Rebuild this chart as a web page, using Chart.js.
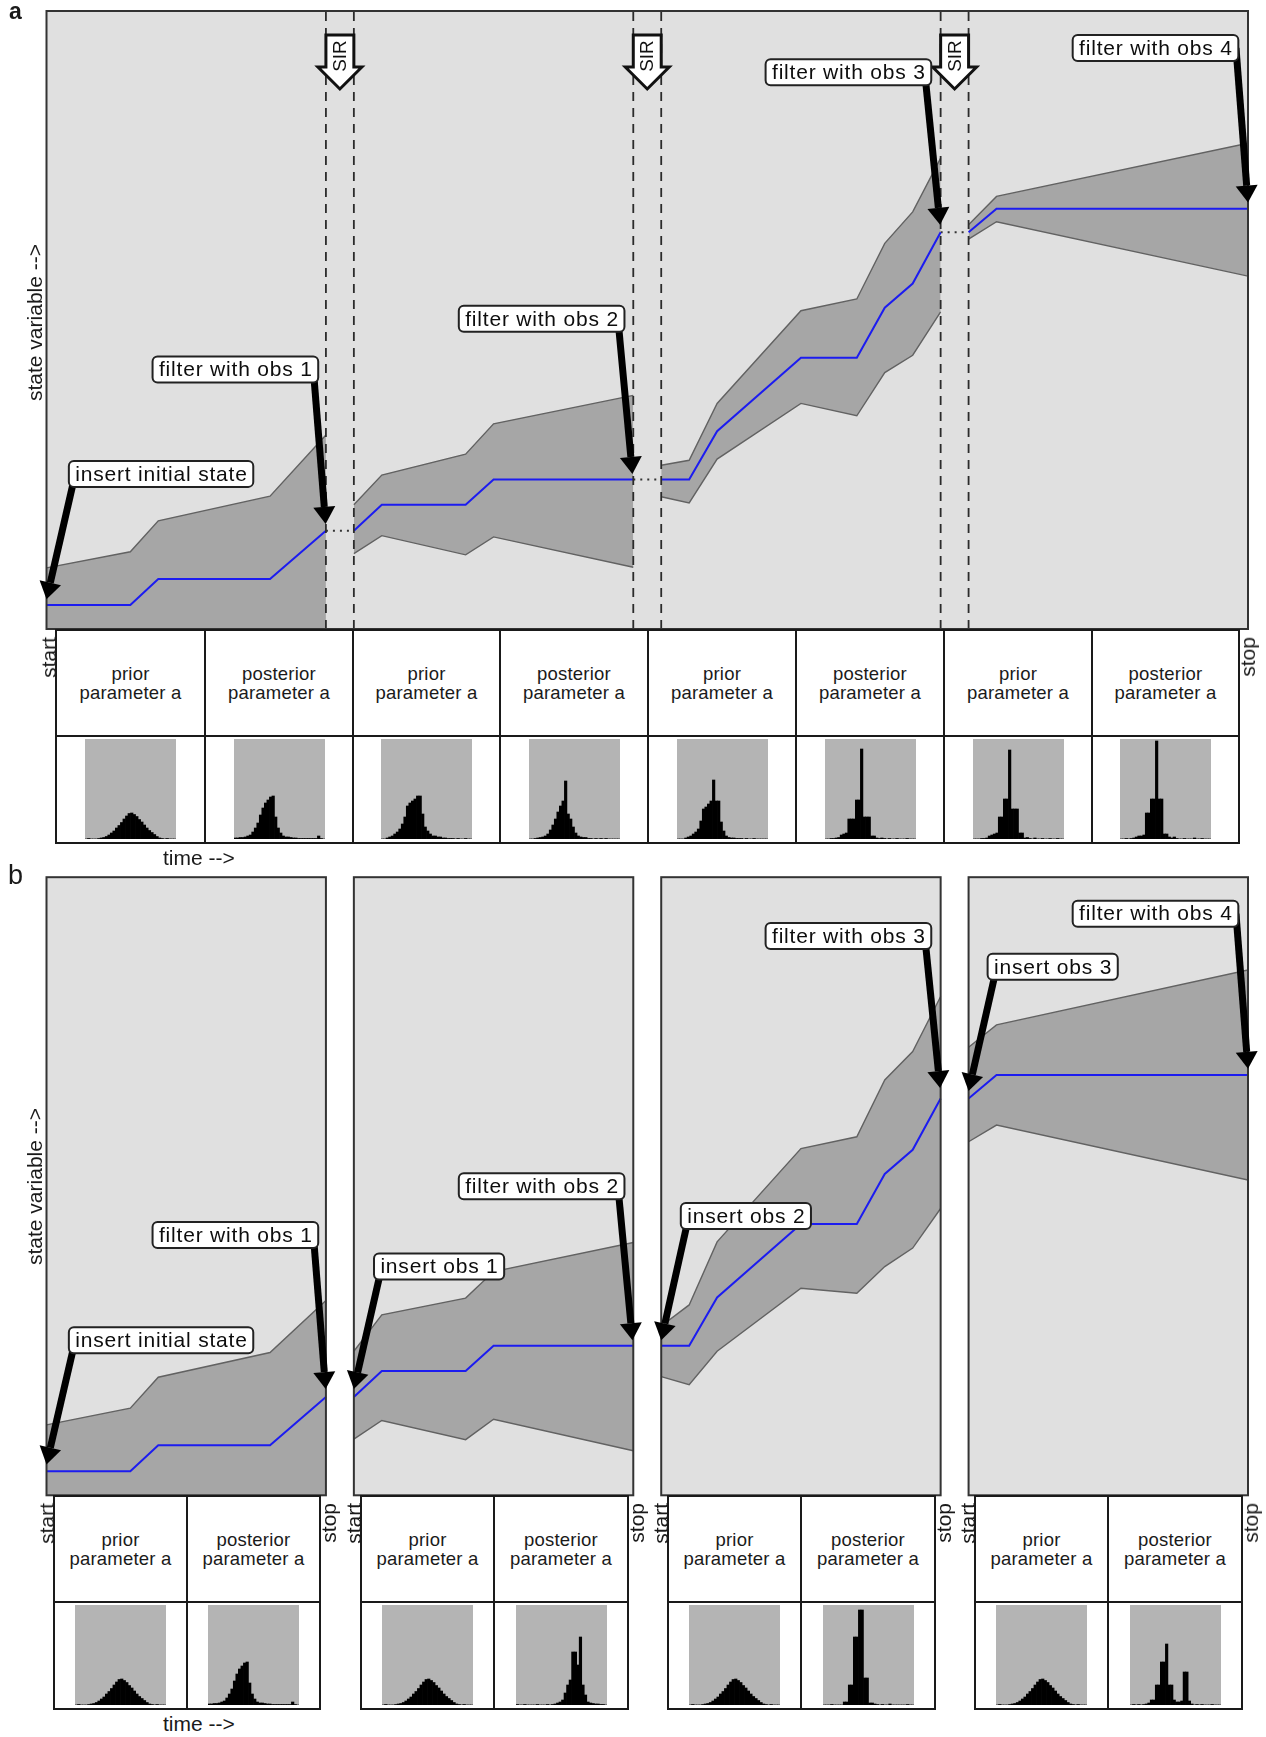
<!DOCTYPE html>
<html>
<head>
<meta charset="utf-8">
<title>Particle filter schematic</title>
<script src="https://cdn.jsdelivr.net/npm/chart.js@4.4.1/dist/chart.umd.min.js"></script>
<style>
  html, body { margin: 0; padding: 0; background: #fff; }
  body { position: relative; width: 1266px; height: 1737px; overflow: hidden;
         font-family: "Liberation Sans", Arial, Helvetica, sans-serif; color: #1a1a1a; }
  canvas.panel { position: absolute; left: 0; }
  .cell { position: absolute; box-sizing: border-box; border: 2px solid #1a1a1a; background: #fff;
          display: flex; align-items: center; justify-content: center; text-align: center;
          font-size: 18.5px; line-height: 19px; letter-spacing: 0.2px; }
  .cell canvas { position: absolute; }
  .txt { position: absolute; white-space: nowrap; font-size: 21px; line-height: 24px; z-index: 2; }
  .vert { position: absolute; white-space: nowrap; font-size: 21px; line-height: 21px; z-index: 2;
          transform-origin: 0 0; transform: rotate(-90deg) translateX(-100%); }
</style>
</head>
<body>
<div class="txt" style="left:9px;top:0px;font-weight:bold;font-size:23px;line-height:23px">a</div>
<div class="txt" style="left:8px;top:862px;font-size:27px;line-height:27px">b</div>
<div class="vert" style="left:24px;top:244px">state variable --&gt;</div>
<div class="vert" style="left:24px;top:1108px">state variable --&gt;</div>
<div class="txt" style="left:163px;top:846px">time --&gt;</div>
<div class="txt" style="left:163px;top:1712px">time --&gt;</div>
<canvas id="panelA" class="panel" width="1266" height="640" style="top:0"></canvas>
<canvas id="panelB" class="panel" width="1266" height="640" style="top:866px"></canvas>
<script>
// time steps of the drawn vertices, one list per filter segment
const segSteps = [
    [0, 3, 4, 8, 10],
    [11, 12, 15, 16, 21],
    [22, 23, 24, 27, 29, 30, 31, 32],
    [33, 34, 43]
];

// ensemble mean (blue line), same in both panels
const meanState = [
    [3.9, 3.9, 8.1, 8.1, 15.9],
    [15.9, 20.1, 20.1, 24.2, 24.2],
    [24.2, 24.2, 32.0, 43.9, 43.9, 52.0, 55.9, 64.2],
    [64.2, 68.0, 68.0]
];

// panel a: spread with SIR resampling
const upperA = [
    [9.9, 12.5, 17.5, 21.5, 31.4],
    [20.1, 24.9, 28.3, 33.2, 37.8],
    [26.5, 27.3, 36.5, 51.5, 53.4, 62.4, 67.5, 76.2],
    [65.4, 70.0, 78.6]
];
const lowerA = [
    [-3, -5, -4, -6, -2],
    [12.2, 15.1, 12.0, 14.9, 10.0],
    [21.4, 20.4, 27.5, 36.5, 34.5, 41.5, 44.3, 51.3],
    [63.1, 65.9, 57.1]
];

// panel b: spread when each run restarts from inserted obs
const upperB = [
    [11.4, 14.1, 19.1, 23.1, 31.5],
    [23.3, 29.2, 31.9, 36.2, 40.9],
    [27.4, 30.8, 41.0, 56.1, 58.0, 67.2, 71.8, 80.7],
    [72.5, 76.1, 85.0]
];
const lowerB = [
    [-3, -5, -4, -6, -2],
    [9.1, 12.1, 9.0, 12.3, 7.2],
    [19.2, 17.9, 23.3, 33.5, 32.7, 37.0, 40.0, 46.4],
    [57.2, 59.9, 51.0]
];

const sirAt = [10.5, 21.5, 32.5];

const calloutsA = [
    { text: 'insert initial state', box: [4.10, 25.1], tail: 1.03, tip: [0, 4.8] },
    { text: 'filter with obs 1', box: [6.76, 42.0], tail: 9.55, tip: [9.99, 17.0] },
    { text: 'filter with obs 2', box: [17.72, 50.2], tail: 20.45, tip: [20.97, 25.1] },
    { text: 'filter with obs 3', box: [28.70, 90.1], tail: 31.43, tip: [31.98, 65.4] },
    { text: 'filter with obs 4', box: [39.69, 94.0], tail: 42.57, tip: [43.0, 69.0] }
];
const calloutsB = [
    { text: 'insert initial state', box: [4.10, 25.1], tail: 1.03, tip: [0, 5.0] },
    { text: 'filter with obs 1', box: [6.76, 42.1], tail: 9.55, tip: [9.99, 17.2] },
    { text: 'insert obs 1', box: [14.05, 37.0], tail: 12.0, tip: [11.0, 17.2] },
    { text: 'filter with obs 2', box: [17.72, 50.0], tail: 20.45, tip: [20.97, 25.1] },
    { text: 'insert obs 2', box: [25.03, 45.2], tail: 22.99, tip: [22.0, 25.1] },
    { text: 'filter with obs 3', box: [28.70, 90.5], tail: 31.43, tip: [31.98, 65.9] },
    { text: 'insert obs 3', box: [36.01, 85.5], tail: 34.01, tip: [33.0, 65.4] },
    { text: 'filter with obs 4', box: [39.69, 94.1], tail: 42.57, tip: [43.0, 69.0] }
];

// parameter histograms, % of panel height per bin (36 bins)
const priorSeg1 = [0, 0.5, 0, 0, 0, 0.5, 1, 1.5, 2.5, 4, 6, 8, 11, 13.5, 16.5, 20, 23, 25.5, 26, 24.5, 22.5, 19.5, 17, 14, 11, 8.5, 6.5, 4.5, 2.5, 1, 0.5, 0, 0.5, 0, 0, 0];
const postSeg1 = [1, 1, 1.5, 1.5, 2, 3, 4, 7, 11, 16, 24, 31, 36, 39, 42, 43, 22, 11, 6, 3, 2, 2, 1.5, 1, 1, 0.5, 0.5, 0.5, 0.5, 0.5, 0.5, 0.5, 0.5, 3, 0.5, 0];
const priorSeg2 = [0, 0, 1, 2, 3, 5, 7, 10, 15, 22, 33, 36, 38, 40, 43, 43, 25, 12, 8, 5, 3, 3, 2, 2, 1, 1, 0.5, 0.5, 0.5, 0, 0.5, 0, 0, 0.5, 0, 0];
const postSeg2 = [0, 0, 0.5, 1, 1.5, 2, 3, 5, 9, 14, 20, 27, 33, 38, 58, 25, 20, 12, 6, 3, 2, 1.5, 1.5, 0.5, 0.5, 0, 0.5, 0, 0.5, 0, 0.5, 0, 0, 0, 0, 0];
const priorSeg3 = [0, 0, 0, 1, 2, 3, 5, 7, 10, 18, 30, 32, 35, 38, 59, 38, 38, 17, 8, 3, 1.5, 1, 1, 0.5, 0.5, 0.5, 0, 0.5, 0, 0, 0.5, 0, 0, 0, 0, 0];
const postSeg3 = [0, 0, 0.5, 0.5, 1, 1.5, 4, 5, 6, 20, 20, 20, 39, 39, 90, 22, 22, 22, 3, 3, 1, 0.5, 1, 0.5, 0, 0.5, 0, 0, 0.5, 0, 0, 0, 0.5, 0, 0, 0];
const priorSeg4 = [0, 0, 0, 0.5, 0.5, 1, 3, 4, 5, 6, 22, 22, 40, 40, 89, 30, 30, 30, 6, 6, 1, 1.5, 0.5, 0, 1, 0, 0, 0.5, 0, 0, 0.5, 0, 0, 0.5, 0, 0];
const postSeg4 = [0, 0, 0.5, 0, 0.5, 1, 2, 3, 3, 4, 26, 26, 40, 40, 98, 40, 40, 5, 5, 2, 1, 2, 0.5, 0, 0, 0.5, 0, 0, 0, 1, 0, 0, 0.5, 0, 0, 0];
const noSirPost2 = [0.5, 0, 0, 0.5, 0, 0, 0, 0, 0.5, 0, 0, 0, 0.5, 0, 0.5, 1, 2, 3, 5, 12, 20, 25, 53, 53, 40, 68, 20, 10, 3, 2, 1.5, 1, 1, 0.5, 0.5, 0];
const noSirPost3 = [0, 0, 0, 0.5, 0, 0, 0, 0, 3, 3, 20, 20, 68, 68, 95, 95, 27, 27, 2, 2, 1, 0.5, 0, 0.5, 0, 0, 1, 0, 0, 0, 0, 0, 0, 0.5, 0, 0];
const noSirPost4 = [0, 0.5, 0, 0.5, 0, 0.5, 1, 2, 5, 5, 20, 20, 43, 43, 61, 20, 20, 5, 3, 3, 4, 33, 33, 4, 1, 0, 0.5, 0, 0.5, 0, 0, 0, 0.5, 0, 0, 0];

const histTitles = ['prior\nparameter a', 'posterior\nparameter a'];
const binLabels = priorSeg1.map((_, i) => 'bin ' + (i + 1));

const plotBg = '#e0e0e0';
const bandFill = '#a6a6a6';
const bandEdge = '#626262';
const meanBlue = '#1c1cf0';
const font = '"Liberation Sans", Arial, sans-serif';

function line(steps, vals, extra) {
    return Object.assign({
        data: steps.map((t, i) => ({ x: t, y: vals[i] })),
        fill: false, tension: 0, pointRadius: 0
    }, extra);
}

function drawArrow(ctx, x0, y0, x1, y1) {
    const ang = Math.atan2(y1 - y0, x1 - x0);
    const headLen = 17, headW = 11;
    const bx = x1 - headLen * Math.cos(ang), by = y1 - headLen * Math.sin(ang);
    ctx.strokeStyle = '#000';
    ctx.fillStyle = '#000';
    ctx.lineWidth = 7;
    ctx.lineCap = 'butt';
    ctx.beginPath();
    ctx.moveTo(x0, y0);
    ctx.lineTo(bx, by);
    ctx.stroke();
    ctx.beginPath();
    ctx.moveTo(x1, y1);
    ctx.lineTo(bx + headW * Math.sin(ang), by - headW * Math.cos(ang));
    ctx.lineTo(bx - headW * Math.sin(ang), by + headW * Math.cos(ang));
    ctx.closePath();
    ctx.fill();
}

function drawCallout(ctx, x, y, c) {
    const bx = x.getPixelForValue(c.box[0]), by = y.getPixelForValue(c.box[1]);
    drawArrow(ctx, x.getPixelForValue(c.tail), by,
        x.getPixelForValue(c.tip[0]), y.getPixelForValue(c.tip[1]));
    ctx.font = '21px ' + font;
    ctx.letterSpacing = '0.8px';
    const w = ctx.measureText(c.text).width + 12, h = 26;
    ctx.beginPath();
    ctx.roundRect(bx - w / 2, by - h / 2, w, h, 5);
    ctx.fillStyle = '#fff';
    ctx.fill();
    ctx.lineWidth = 2;
    ctx.strokeStyle = '#222';
    ctx.stroke();
    ctx.fillStyle = '#0d0d0d';
    ctx.textAlign = 'center';
    ctx.textBaseline = 'middle';
    ctx.fillText(c.text, bx + 0.4, by + 1);
    ctx.letterSpacing = '0px';
}

function drawSir(ctx, cx, top, hw) {
    ctx.beginPath();
    ctx.moveTo(cx - hw, top + 24);
    ctx.lineTo(cx + hw, top + 24);
    ctx.lineTo(cx + hw, top + 56);
    ctx.lineTo(cx + 22, top + 56);
    ctx.lineTo(cx, top + 78);
    ctx.lineTo(cx - 22, top + 56);
    ctx.lineTo(cx - hw, top + 56);
    ctx.closePath();
    ctx.fillStyle = '#fff';
    ctx.fill();
    ctx.lineWidth = 3;
    ctx.strokeStyle = '#111';
    ctx.lineJoin = 'miter';
    ctx.stroke();
    ctx.save();
    ctx.translate(cx, top + 45);
    ctx.rotate(-Math.PI / 2);
    ctx.font = '19px ' + font;
    ctx.textAlign = 'center';
    ctx.textBaseline = 'middle';
    ctx.fillStyle = '#111';
    ctx.fillText('SIR', 0, 1);
    ctx.restore();
}

function panelPlugin(cfg) {
    return {
        id: 'panelDecor',
        beforeDraw(chart) {
            const { ctx, chartArea: a, scales: { x } } = chart;
            ctx.save();
            ctx.fillStyle = plotBg;
            cfg.boxes.forEach(([t0, t1]) => {
                const x0 = x.getPixelForValue(t0), x1 = x.getPixelForValue(t1);
                ctx.fillRect(x0, a.top, x1 - x0, a.bottom - a.top);
            });
            ctx.restore();
        },
        afterDatasetsDraw(chart) {
            const { ctx, chartArea: a, scales: { x, y } } = chart;
            ctx.save();
            ctx.setLineDash([9, 7]);
            ctx.lineWidth = 1.8;
            ctx.strokeStyle = '#2b2b2b';
            cfg.dividers.forEach(t => {
                const px = x.getPixelForValue(t);
                ctx.beginPath();
                ctx.moveTo(px, a.top + 1);
                ctx.lineTo(px, a.bottom);
                ctx.stroke();
            });
            ctx.setLineDash([]);
            ctx.lineWidth = 2;
            ctx.strokeStyle = '#333';
            cfg.boxes.forEach(([t0, t1]) => {
                const x0 = x.getPixelForValue(t0), x1 = x.getPixelForValue(t1);
                ctx.strokeRect(x0, a.top, x1 - x0, a.bottom - a.top);
            });
            cfg.sir.forEach(t => {
                const hw = x.getPixelForValue(t + 0.5) - x.getPixelForValue(t);
                drawSir(ctx, x.getPixelForValue(t), a.top, hw);
            });
            cfg.callouts.forEach(c => drawCallout(ctx, x, y, c));
            ctx.restore();
        }
    };
}

function panelConfig(upper, lower, cfg) {
    const datasets = [];
    segSteps.forEach((steps, s) => {
        datasets.push(line(steps, upper[s], { borderColor: bandEdge, borderWidth: 1.4, order: 3 }));
        datasets.push(line(steps, lower[s], {
            borderColor: bandEdge, borderWidth: 1.4, order: 3,
            fill: '-1', backgroundColor: bandFill
        }));
    });
    segSteps.forEach((steps, s) => {
        datasets.push(line(steps, meanState[s], { borderColor: meanBlue, borderWidth: 2, order: 0 }));
    });
    if (cfg.dotted) {
        for (let s = 0; s < segSteps.length - 1; s++) {
            const a = segSteps[s], b = segSteps[s + 1];
            datasets.push(line([a[a.length - 1], b[0]],
                [meanState[s][a.length - 1], meanState[s + 1][0]],
                { borderColor: '#333', borderWidth: 2, borderDash: [2, 5], order: 1 }));
        }
    }
    return {
        type: 'line',
        data: { datasets },
        options: {
            responsive: false,
            animation: false,
            events: [],
            layout: { padding: cfg.padding },
            plugins: { legend: { display: false }, tooltip: { enabled: false } },
            scales: {
                x: { type: 'linear', min: 0, max: 43, display: false },
                y: { type: 'linear', min: 0, max: 100, display: false }
            }
        },
        plugins: [panelPlugin(cfg)]
    };
}

const segBounds = segSteps.map(s => [s[0], s[s.length - 1]]);

new Chart(document.getElementById('panelA'), panelConfig(upperA, lowerA, {
    boxes: [[0, 43]],
    dividers: segBounds.slice(0, -1).flatMap((b, i) => [b[1], segBounds[i + 1][0]]),
    sir: sirAt,
    callouts: calloutsA,
    dotted: true,
    padding: { left: 46.5, right: 18, top: 11, bottom: 11 }
}));

new Chart(document.getElementById('panelB'), panelConfig(upperB, lowerB, {
    boxes: segBounds,
    dividers: [],
    sir: [],
    callouts: calloutsB,
    dotted: false,
    padding: { left: 46.5, right: 18, top: 11.2, bottom: 10.7 }
}));

// histogram tables
const histBg = {
    id: 'histBg',
    beforeDraw(chart) {
        const { ctx, chartArea: a } = chart;
        ctx.save();
        ctx.fillStyle = '#b4b4b4';
        ctx.fillRect(a.left, a.top, a.right - a.left, a.bottom - a.top);
        ctx.restore();
    }
};

function histConfig(values) {
    return {
        type: 'bar',
        data: {
            labels: binLabels,
            datasets: [{ data: values, backgroundColor: '#000', borderWidth: 0,
                barPercentage: 1, categoryPercentage: 1 }]
        },
        options: {
            responsive: false,
            animation: false,
            events: [],
            layout: { padding: 0 },
            plugins: { legend: { display: false }, tooltip: { enabled: false } },
            scales: { x: { display: false }, y: { display: false, min: 0, max: 100 } }
        },
        plugins: [histBg]
    };
}

function addDiv(cls, left, top, w, h) {
    const d = document.createElement('div');
    d.className = cls;
    Object.assign(d.style, { left: left + 'px', top: top + 'px', width: w + 'px', height: h + 'px' });
    document.body.appendChild(d);
    return d;
}

function addVert(text, left, top) {
    const d = document.createElement('div');
    d.className = 'vert';
    d.textContent = text;
    Object.assign(d.style, { left: left + 'px', top: top + 'px' });
    document.body.appendChild(d);
}

function buildTable(colX, rowY, hists) {
    for (let i = 0; i < colX.length - 1; i++) {
        const w = colX[i + 1] - colX[i];
        const head = addDiv('cell', colX[i], rowY[0], w + 2, rowY[1] - rowY[0] + 2);
        head.innerHTML = histTitles[i % 2].replace('\n', '<br>');
        const body = addDiv('cell', colX[i], rowY[1], w + 2, rowY[2] - rowY[1] + 2);
        const cv = document.createElement('canvas');
        cv.width = 91;
        cv.height = 100;
        cv.style.left = Math.round((w - 2 - 91) / 2) + 'px';
        cv.style.top = '2px';
        body.appendChild(cv);
        new Chart(cv, histConfig(hists[i]));
    }
    addVert('start', colX[0] - 17, rowY[0] + 8);
    addVert('stop', colX[colX.length - 1] - 1, rowY[0] + 8);
}

buildTable([55, 204, 352, 499, 647, 795, 943, 1091, 1238], [629, 735, 842],
    [priorSeg1, postSeg1, priorSeg2, postSeg2, priorSeg3, postSeg3, priorSeg4, postSeg4]);

buildTable([53, 186, 319], [1495, 1601, 1708], [priorSeg1, postSeg1]);
buildTable([360, 493, 627], [1495, 1601, 1708], [priorSeg1, noSirPost2]);
buildTable([667, 800, 934], [1495, 1601, 1708], [priorSeg1, noSirPost3]);
buildTable([974, 1107, 1241], [1495, 1601, 1708], [priorSeg1, noSirPost4]);
</script>
</body>
</html>
